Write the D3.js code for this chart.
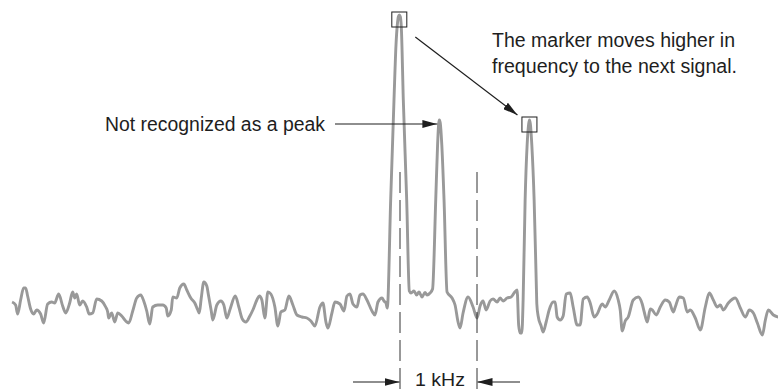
<!DOCTYPE html>
<html><head><meta charset="utf-8">
<script src="https://cdn.jsdelivr.net/npm/d3@7"></script>
<style>body{margin:0;background:#fff}svg{display:block}</style>
</head><body>
<script>
// Frequency offset (Hz) relative to the first marker frequency, and trace level (dB)
const freqHz = [-5038,-4992,-4966,-4927,-4888,-4862,-4836,-4797,-4758,-4719,-4667,-4628,-4576,-4524,-4485,-4433,-4381,-4342,-4290,-4251,-4225,-4199,-4160,-4121,-4069,-4037,-3991,-3939,-3874,-3822,-3796,-3783,-3744,-3705,-3666,-3614,-3562,-3523,-3471,-3419,-3367,-3328,-3289,-3250,-3211,-3146,-3081,-3036,-3016,-2971,-2951,-2899,-2860,-2808,-2769,-2717,-2665,-2626,-2607,-2581,-2548,-2509,-2490,-2451,-2431,-2379,-2327,-2288,-2249,-2210,-2139,-2093,-2048,-2002,-1950,-1911,-1859,-1827,-1794,-1755,-1716,-1677,-1625,-1586,-1547,-1495,-1443,-1391,-1339,-1274,-1209,-1157,-1105,-1040,-1001,-962,-936,-884,-845,-780,-728,-689,-650,-611,-559,-520,-481,-429,-364,-325,-286,-234,-208,-182,-165,-121,-78,-52,-35,-20,-9,3,17,43,87,121,143,182,215,247,286,325,351,390,423,464,488,502,511,523,543,572,611,676,715,754,780,819,884,949,1001,1040,1079,1118,1170,1209,1261,1300,1339,1391,1443,1482,1521,1541,1560,1582,1599,1625,1651,1671,1681,1693,1712,1742,1772,1777,1794,1833,1859,1898,1937,1989,2015,2041,2080,2119,2158,2210,2249,2301,2340,2379,2431,2470,2522,2561,2626,2665,2717,2782,2834,2860,2886,2925,2964,3029,3094,3146,3172,3211,3250,3276,3328,3380,3445,3497,3549,3575,3627,3679,3731,3770,3835,3900,3965,4017,4069,4121,4160,4199,4264,4355,4420,4485,4537,4589,4641,4706,4745,4784,4849,4914];
const levelDb = [-71.75,-72.5,-74.75,-71.25,-68.25,-68.25,-70.25,-73.5,-74.75,-73.75,-74.75,-77,-72.25,-71.75,-72,-69.75,-72.75,-74.5,-72,-69.25,-70.75,-69.75,-72.5,-71.5,-73,-74.75,-74.5,-71,-71.5,-73,-74.25,-75.75,-74.5,-76.75,-74.5,-75.25,-76.5,-77,-74,-70.75,-70,-71.5,-74,-77.25,-73,-72.5,-72.5,-73.25,-75.25,-73.75,-70.5,-70.75,-68.25,-67.25,-68.75,-70.75,-72,-73.75,-74.5,-70.75,-66.75,-67.75,-69.75,-74,-76.25,-72.5,-71.5,-72.5,-75.75,-73.75,-70.25,-73,-76,-76.75,-75.25,-73.75,-71.25,-70.25,-71.25,-75.75,-69.25,-69.75,-73,-77.75,-74.25,-73.75,-70.25,-72.5,-75,-75.5,-75.75,-76.5,-77.75,-73,-72,-76.75,-78.25,-74.5,-71.75,-72.25,-74,-70.25,-69.75,-72.25,-73,-70,-69.75,-71.25,-74,-75,-71.75,-70.75,-71.5,-72,-73.25,-46.25,-21.25,-7.5,-2.5,-0.375,0,-0.375,-3,-21.25,-46.25,-69,-69.5,-69,-70,-69.25,-70.5,-69.375,-70,-69.5,-68.5,-46.25,-32.5,-27.25,-26.25,-27,-32.5,-46.25,-69.25,-70.75,-72.5,-76.75,-78.25,-74.5,-70.5,-73,-75.75,-72.75,-71.5,-73.75,-71.5,-71,-71.75,-70.75,-71.5,-70.75,-70.5,-69.5,-68.75,-77.5,-79.5,-79.5,-71.25,-46.25,-32.5,-27.25,-26.25,-27.25,-32.5,-46.25,-68.75,-72.25,-75.25,-77.75,-79.25,-76.75,-73.75,-71.75,-71.75,-75.5,-76.25,-75.25,-69.75,-69.5,-73,-77.5,-77.5,-71,-70.5,-72,-75.5,-74.75,-72.25,-73,-71.25,-69,-71.25,-73.75,-79,-76.5,-75.5,-71.25,-70.5,-72.25,-74.25,-76.75,-73.5,-73.75,-75,-73,-71.25,-71.75,-74.25,-73,-70.5,-70.75,-74.25,-73.75,-75.75,-78.75,-73,-69.5,-71.25,-73,-72.5,-73.75,-72,-70.75,-73.25,-75.5,-73.75,-74.5,-77,-80,-76.25,-73.75,-75,-75.5];
const markerFreqs = [-9, 1681];          // marker on first peak, then the next signal
const unrecognizedPeakFreq = 511;        // small peak not recognized
const spanHz = [0, 1000];                // 1 kHz span between dashed lines
const spanLabel = "1 kHz";
const noteLeft = "Not recognized as a peak";
const noteRight = ["The marker moves higher in", "frequency to the next signal."];

const W = 778, H = 390;
const x = d3.scaleLinear().domain([0, 1000]).range([400, 477]);
const y = d3.scaleLinear().domain([-80, 0]).range([335, 15]);
const data = freqHz.map((f, i) => ({ f, db: levelDb[i] }));
const dbAt = f => data.find(d => d.f === f).db;

const svg = d3.select("body").append("svg").attr("width", W).attr("height", H);
const ink = "#1e1e1e";
svg.append("defs").append("marker")
  .attr("id", "ah").attr("markerUnits", "userSpaceOnUse")
  .attr("markerWidth", 15).attr("markerHeight", 8)
  .attr("refX", 15).attr("refY", 4).attr("orient", "auto")
  .append("path").attr("d", "M0,0L15,4L0,8Z").attr("fill", ink);

// trace
svg.append("path").datum(data)
  .attr("d", d3.line().x(d => x(d.f)).y(d => y(d.db)).curve(d3.curveMonotoneX))
  .attr("fill", "none").attr("stroke", "#999").attr("stroke-width", 2.9)
  .attr("stroke-linejoin", "round");

// dashed span lines
svg.selectAll("line.span").data(spanHz).join("line").attr("class", "span")
  .attr("x1", d => x(d)).attr("x2", d => x(d))
  .attr("y1", 172).attr("y2", 390)
  .attr("stroke", "#333").attr("stroke-width", 1).attr("stroke-dasharray", "21,7");

// marker boxes
svg.selectAll("rect.mk").data(markerFreqs).join("rect").attr("class", "mk")
  .attr("x", d => x(d) - 7.5).attr("y", d => y(dbAt(d)) - 3)
  .attr("width", 15).attr("height", 15)
  .attr("fill", "none").attr("stroke", ink).attr("stroke-width", 1);

// arrow: marker moves
const m0x = x(markerFreqs[0]), m0y = y(dbAt(markerFreqs[0]));
const m1x = x(markerFreqs[1]), m1y = y(dbAt(markerFreqs[1]));
svg.append("line")
  .attr("x1", m0x + 16).attr("y1", m0y + 22)
  .attr("x2", m1x - 12).attr("y2", m1y - 5)
  .attr("stroke", ink).attr("stroke-width", 1.2).attr("marker-end", "url(#ah)");

// arrow: not recognized
const px = x(unrecognizedPeakFreq), py = y(dbAt(unrecognizedPeakFreq));
svg.append("line")
  .attr("x1", 335).attr("y1", py + 4)
  .attr("x2", px - 2).attr("y2", py + 4)
  .attr("stroke", ink).attr("stroke-width", 1.2).attr("marker-end", "url(#ah)");

// span arrows
const ay = 382;
svg.append("line").attr("x1", x(spanHz[0]) - 47).attr("x2", x(spanHz[0]) - 0.5)
  .attr("y1", ay).attr("y2", ay).attr("stroke", ink).attr("stroke-width", 1.2).attr("marker-end", "url(#ah)");
svg.append("line").attr("x1", x(spanHz[1]) + 43).attr("x2", x(spanHz[1]) + 0.5)
  .attr("y1", ay).attr("y2", ay).attr("stroke", ink).attr("stroke-width", 1.2).attr("marker-end", "url(#ah)");

const font = "'Liberation Sans', Arial, Helvetica, sans-serif";
function label(txt, tx, ty, len, size) {
  svg.append("text").attr("x", tx).attr("y", ty).text(txt)
    .attr("font-family", font).attr("font-size", size || 20).attr("fill", ink)
    .attr("textLength", len).attr("lengthAdjust", "spacingAndGlyphs");
}
label(noteLeft, 105, 130.5, 220);
label(noteRight[0], 492, 46.7, 243);
label(noteRight[1], 492, 72.7, 245);
label(spanLabel, 415, 386, 50, 19);
</script>
</body></html>
